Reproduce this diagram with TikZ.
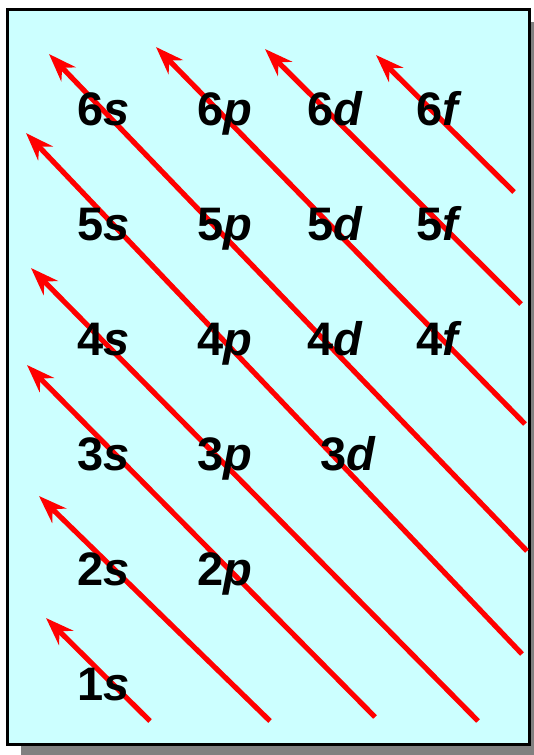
\documentclass[tikz,border=0pt]{standalone}
\usepackage{fontspec}
\setmainfont{Liberation Sans}
\usetikzlibrary{arrows.meta}
\definecolor{boxfill}{HTML}{CCFFFF}
\definecolor{shadowgray}{HTML}{808080}
\definecolor{arrred}{HTML}{FF0000}
\tikzset{
  lbl/.style={anchor=base west, inner sep=0pt, text=black,
    font=\fontsize{47}{56}\selectfont\bfseries},
  arr/.style={draw=arrred, line width=5.2pt,
    -{Stealth[length=28pt,width=20pt,inset=9pt]}},
}
\begin{document}
\begin{tikzpicture}[x=1pt,y=-1pt]
\useasboundingbox (0,0) rectangle (533,755);
% shadow and box
\fill[shadowgray] (21,22) rectangle (545,770);
\draw[line width=3pt, fill=boxfill] (7,9) rectangle (529,744);
% arrow end points
\coordinate (t1) at (150,721); \coordinate (h1) at (46,618);
\coordinate (t2) at (270,721); \coordinate (h2) at (39,496);
\coordinate (t3) at (375,717); \coordinate (h3) at (27,365);
\coordinate (t4) at (478,721); \coordinate (h4) at (31,268);
\coordinate (t5) at (522,654); \coordinate (h5) at (26,133);
\coordinate (t6) at (527,551); \coordinate (h6) at (49,54);
\coordinate (t7) at (525,424); \coordinate (h7) at (156,47);
\coordinate (t8) at (521,304); \coordinate (h8) at (265,49);
\coordinate (t9) at (514,192); \coordinate (h9) at (376,55);
\foreach \i in {1,...,9} { \draw[arr] (t\i) -- (h\i); }
% labels
\node[lbl] (n6s) at (77,125) {6\textit{s}};
\node[lbl] (n6p) at (197,125) {6\textit{p}};
\node[lbl] (n6d) at (307,125) {6\textit{d}};
\node[lbl] (n6f) at (416,125) {6\textit{f}};
\node[lbl] (n5s) at (77,240) {5\textit{s}};
\node[lbl] (n5p) at (197,240) {5\textit{p}};
\node[lbl] (n5d) at (307,240) {5\textit{d}};
\node[lbl] (n5f) at (416,240) {5\textit{f}};
\node[lbl] (n4s) at (77,355) {4\textit{s}};
\node[lbl] (n4p) at (197,355) {4\textit{p}};
\node[lbl] (n4d) at (307,355) {4\textit{d}};
\node[lbl] (n4f) at (416,355) {4\textit{f}};
\node[lbl] (n3s) at (77,470) {3\textit{s}};
\node[lbl] (n3p) at (197,470) {3\textit{p}};
\node[lbl] (n3d) at (320,470) {3\textit{d}};
\node[lbl] (n2s) at (77,585) {2\textit{s}};
\node[lbl] (n2p) at (197,585) {2\textit{p}};
\node[lbl] (n1s) at (77,700) {1\textit{s}};
\end{tikzpicture}
\end{document}
